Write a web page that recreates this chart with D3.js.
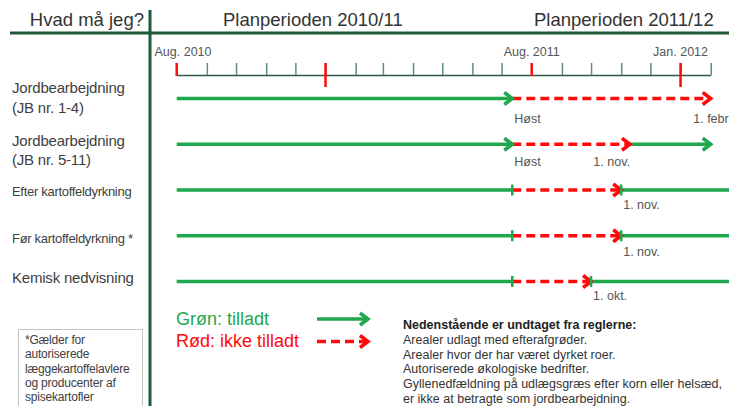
<!DOCTYPE html>
<html>
<head>
<meta charset="utf-8">
<script src="https://cdn.jsdelivr.net/npm/d3@7"></script>
<style>
  body { margin: 0; background: #fff; }
  svg { display: block; font-family: "Liberation Sans", Arial, sans-serif; }
</style>
</head>
<body>
<div id="chart"></div>
<script>
// rows of the timeline
const rowNames = ["jb14", "jb511", "efter", "foer", "kemisk"];
const rowLabels = [
    ["Jordbearbejdning", "(JB nr. 1-4)"],
    ["Jordbearbejdning", "(JB nr. 5-11)"],
    ["Efter kartoffeldyrkning"],
    ["Før kartoffeldyrkning *"],
    ["Kemisk nedvisning"]
];

// periods: ok = green (tilladt), no = red (ikke tilladt)
const segRow   = ["jb14", "jb14", "jb511", "jb511", "jb511", "efter", "efter", "efter", "foer", "foer", "foer", "kemisk", "kemisk", "kemisk"];
const segFrom  = ["2010-08-01", "2011-07-12", "2010-08-01", "2011-07-12", "2011-11-10", "2010-08-01", "2011-07-12", "2011-11-01", "2010-08-01", "2011-07-12", "2011-11-01", "2010-08-01", "2011-07-12", "2011-10-01"];
const segTo    = ["2011-07-12", "2012-02-01", "2011-07-12", "2011-11-10", "2012-02-01", "2011-07-12", "2011-11-01", "2012-03-31", "2011-07-12", "2011-11-01", "2012-03-31", "2011-07-12", "2011-10-01", "2012-03-31"];
const segKind  = ["ok", "no", "ok", "no", "ok", "ok", "no", "ok", "ok", "no", "ok", "ok", "no", "ok"];
const segEnd   = ["head", "head", "head", "head", "head", "tick", "head", "none", "tick", "head", "none", "tick", "head", "none"];

// date notes under the rows
const noteRow  = ["jb14", "jb14", "jb511", "jb511", "efter", "foer", "kemisk"];
const noteDate = ["2011-07-12", "2012-01-12", "2011-07-12", "2011-11-10", "2011-11-01", "2011-11-01", "2011-10-01"];
const noteText = ["Høst", "1. febr", "Høst", "1. nov.", "1. nov.", "1. nov.", "1. okt."];

// axis
const axisStart = "2010-08-01";
const axisEnd = "2012-02-01";
const axisLabels = ["2010-08-01", "2011-08-01", "2012-01-01"];
const axisLabelText = ["Aug. 2010", "Aug. 2011", "Jan. 2012"];

const headers = ["Hvad må jeg?", "Planperioden 2010/11", "Planperioden 2011/12"];
const legendText = ["Grøn: tilladt", "Rød: ikke tilladt"];
const footnote = ["*Gælder for", "autoriserede", "læggekartoffelavlere", "og producenter af", "spisekartofler"];
const exceptTitle = "Nedenstående er undtaget fra reglerne:";
const exceptLines = [
    "Arealer udlagt med efterafgrøder.",
    "Arealer hvor der har været  dyrket roer.",
    "Autoriserede økologiske bedrifter.",
    "Gyllenedfældning på udlægsgræs efter korn eller helsæd,",
    "er ikke at betragte som jordbearbejdning."
];

const W = 729, H = 406;
const GREEN = "#1fa84d", RED = "#ff0a0a", DARK = "#1d5a35", TXT = "#404040";
const parse = d3.utcParse("%Y-%m-%d");

const svg = d3.select("#chart").append("svg")
    .attr("width", W)
    .attr("height", H);

const x = d3.scaleUtc()
    .domain([parse(axisStart), parse(axisEnd)])
    .range([176.7, 710.7]);

const y = d3.scalePoint()
    .domain(rowNames)
    .range([98.5, 281.5]);

// header
svg.append("text").attr("x", 144).attr("y", 26).attr("text-anchor", "end")
    .attr("font-size", 18.5).attr("fill", "#333").text(headers[0]);
svg.append("text").attr("x", 223).attr("y", 26)
    .attr("font-size", 18.5).attr("fill", "#333").text(headers[1]);
svg.append("text").attr("x", 534).attr("y", 26)
    .attr("font-size", 18.5).attr("fill", "#333").text(headers[2]);

svg.append("line").attr("x1", 10).attr("x2", W).attr("y1", 33).attr("y2", 33)
    .attr("stroke", DARK).attr("stroke-width", 3);
svg.append("line").attr("x1", 150).attr("x2", 150).attr("y1", 10).attr("y2", H)
    .attr("stroke", DARK).attr("stroke-width", 3);

// month axis
const months = d3.utcMonth.range(parse(axisStart), d3.utcDay.offset(parse(axisEnd), 1));
const axisG = svg.append("g")
    .attr("transform", "translate(0,75)")
    .call(d3.axisTop(x).tickValues(months).tickSize(12).tickSizeOuter(0).tickFormat(""));
axisG.select(".domain").attr("stroke", "#2f5a45").attr("stroke-width", 1.5);
axisG.selectAll(".tick line").attr("stroke", "#5f8f77").attr("stroke-width", 1.5);

const redMonths = months.filter(function(d) { return d.getUTCMonth() === 7 || d.getUTCMonth() === 0; });
svg.selectAll(".redtick")
    .data(redMonths)
    .enter()
    .append("line")
    .attr("class", "redtick")
    .attr("x1", function(d) { return x(d); })
    .attr("x2", function(d) { return x(d); })
    .attr("y1", 63)
    .attr("y2", function(d) { return d.getUTCMonth() === 0 ? 87 : 76; })
    .attr("stroke", RED)
    .attr("stroke-width", 2.5);

svg.selectAll(".axlabel")
    .data(axisLabels)
    .enter()
    .append("text")
    .attr("class", "axlabel")
    .attr("x", function(d) { return Math.max(x(parse(d)), 183); })
    .attr("y", 56)
    .attr("text-anchor", "middle")
    .attr("font-size", 12.5)
    .attr("fill", "#555")
    .text(function(d, i) { return axisLabelText[i]; });

// row labels
const labelSize = [15, 15, 13, 13, 15];
const labelDy = [-5.5, 1.5, 6, 7.5, 1.5];
rowNames.forEach(function(r, i) {
    const t = svg.append("text")
        .attr("x", 12)
        .attr("y", y(r) + labelDy[i])
        .attr("font-size", labelSize[i])
        .attr("fill", TXT)
        .attr("letter-spacing", labelSize[i] === 13 ? -0.3 : -0.2);
    rowLabels[i].forEach(function(line, j) {
        t.append("tspan").attr("x", 12).attr("dy", j === 0 ? 0 : 19.5).text(line);
    });
});

// segments
const segs = segRow.map(function(r, i) {
    return { row: r, from: parse(segFrom[i]), to: parse(segTo[i]), kind: segKind[i], end: segEnd[i] };
});

const segG = svg.append("g");
segG.selectAll("line")
    .data(segs)
    .enter()
    .append("line")
    .attr("x1", function(d) { return x(d.from); })
    .attr("x2", function(d) { return x(d.to) - (d.end === "head" ? 1.5 : 0); })
    .attr("y1", function(d) { return y(d.row); })
    .attr("y2", function(d) { return y(d.row); })
    .attr("stroke", function(d) { return d.kind === "ok" ? GREEN : RED; })
    .attr("stroke-width", 3.5)
    .attr("stroke-dasharray", function(d) { return d.kind === "ok" ? null : "9,5"; });

segG.selectAll(".head")
    .data(segs.filter(function(d) { return d.end === "head"; }))
    .enter()
    .append("path")
    .attr("class", "head")
    .attr("d", function(d) {
        const tx = x(d.to), ty = y(d.row);
        return "M" + (tx - 8) + "," + (ty - 6) + "L" + tx + "," + ty + "L" + (tx - 8) + "," + (ty + 6);
    })
    .attr("fill", "none")
    .attr("stroke", function(d) { return d.kind === "ok" ? GREEN : RED; })
    .attr("stroke-width", 3.5)
    .attr("stroke-linejoin", "miter");

// small green ticks where periods change on the potato rows
segG.selectAll(".rtick")
    .data(segs.filter(function(d) { return d.end === "tick" || (d.kind === "ok" && d.end === "none"); }))
    .enter()
    .append("line")
    .attr("class", "rtick")
    .attr("x1", function(d) { return d.end === "tick" ? x(d.to) : x(d.from); })
    .attr("x2", function(d) { return d.end === "tick" ? x(d.to) : x(d.from); })
    .attr("y1", function(d) { return y(d.row) - 5.5; })
    .attr("y2", function(d) { return y(d.row) + 5.5; })
    .attr("stroke", GREEN)
    .attr("stroke-width", 2.5);

// notes
const noteAnchor = ["start", "start", "start", "end", "start", "start", "start"];
const noteDy = [24.5, 24.5, 22, 22, 19, 20.5, 18.5];
svg.selectAll(".note")
    .data(noteText)
    .enter()
    .append("text")
    .attr("class", "note")
    .attr("x", function(d, i) { return x(parse(noteDate[i])) + (noteAnchor[i] === "start" ? 2 : 0); })
    .attr("y", function(d, i) { return y(noteRow[i]) + noteDy[i]; })
    .attr("text-anchor", function(d, i) { return noteAnchor[i]; })
    .attr("font-size", 12.5)
    .attr("fill", "#555")
    .text(function(d) { return d; });

// legend
svg.append("text").attr("x", 176).attr("y", 325).attr("font-size", 18)
    .attr("fill", GREEN).text(legendText[0]);
svg.append("text").attr("x", 176).attr("y", 347).attr("font-size", 18)
    .attr("fill", RED).text(legendText[1]);
svg.append("line").attr("x1", 317).attr("x2", 366).attr("y1", 319).attr("y2", 319)
    .attr("stroke", GREEN).attr("stroke-width", 3.5);
svg.append("path").attr("d", "M360,313L368,319L360,325")
    .attr("fill", "none").attr("stroke", GREEN).attr("stroke-width", 3.5);
svg.append("line").attr("x1", 317).attr("x2", 366).attr("y1", 341.5).attr("y2", 341.5)
    .attr("stroke", RED).attr("stroke-width", 3.5).attr("stroke-dasharray", "9,5");
svg.append("path").attr("d", "M360,335.5L368,341.5L360,347.5")
    .attr("fill", "none").attr("stroke", RED).attr("stroke-width", 3.5);

// footnote box
svg.append("rect").attr("x", 18.5).attr("y", 329.5).attr("width", 124).attr("height", 90)
    .attr("fill", "#fff").attr("stroke", "#c4c4c4");
svg.append("g").selectAll("text")
    .data(footnote)
    .enter()
    .append("text")
    .attr("x", 25)
    .attr("y", function(d, i) { return 344 + i * 14.3; })
    .attr("font-size", 12)
    .attr("letter-spacing", -0.2)
    .attr("fill", TXT)
    .text(function(d) { return d; });

// exceptions text
svg.append("text").attr("x", 403).attr("y", 329).attr("font-size", 12.5)
    .attr("font-weight", "bold").attr("fill", "#222").text(exceptTitle);
svg.append("g").selectAll("text")
    .data(exceptLines)
    .enter()
    .append("text")
    .attr("x", 403)
    .attr("y", function(d, i) { return 344 + i * 14.7; })
    .attr("font-size", 12.5)
    .attr("fill", "#333")
    .text(function(d) { return d; });
</script>
</body>
</html>
